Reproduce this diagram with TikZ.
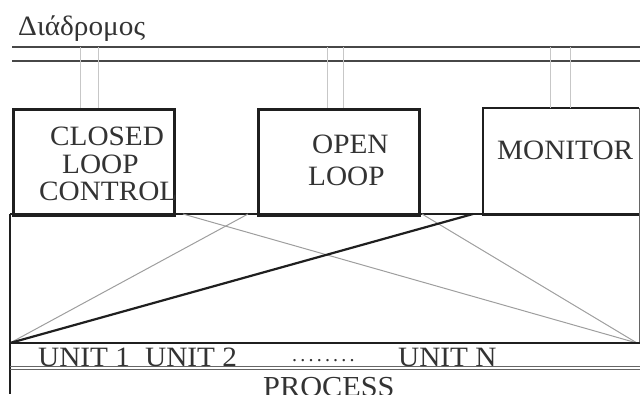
\documentclass[tikz,border=0pt]{standalone}
\usepackage{fontspec}
\setmainfont{Liberation Serif}
\newfontfamily\widerm[FakeStretch=1.045]{Liberation Serif}
\begin{document}
\begin{tikzpicture}[x=1pt,y=-1pt,
  boxframe/.style={draw=black!88,line width=2.8pt},
  busline/.style={draw=black!72,line width=1.8pt},
  tap/.style={draw=black!22,line width=0.9pt},
  thinrule/.style={draw=black!60,line width=0.9pt},
  fieldlink/.style={draw=black!38,line width=1.0pt},
  mainlink/.style={draw=black!88,line width=2.2pt},
  lbl/.style={inner sep=0pt,anchor=base west,text=black!80,font=\widerm\fontsize{28}{28}\selectfont},
  unitlbl/.style={lbl,font=\widerm\fontsize{28}{28}\selectfont},
  station/.style={rectangle,inner sep=0pt,minimum height=106pt,anchor=north west}
]
\useasboundingbox (0,0) rectangle (640,394);

% bus
\node[lbl] (title) at (18,35) {Διάδρομος};
\coordinate (busAw) at (12,47);  \coordinate (busAe) at (640,47);
\coordinate (busBw) at (12,61);  \coordinate (busBe) at (640,61);
\draw[busline] (busAw) -- (busAe);
\draw[busline] (busBw) -- (busBe);

% stations
\node[station,boxframe,minimum width=161pt] (closed) at (12,108) {};
\node[station,boxframe,minimum width=161pt] (open) at (257,108) {};
\node[station,minimum width=156pt] (monitor) at (483,108) {};
\draw[boxframe] (monitor.north east) -- (monitor.north west) -- (monitor.south west) -- (monitor.south east);

\node[lbl] (closedA) at (50,145.5) {CLOSED};
\node[lbl] (closedB) at (62,173) {LOOP};
\node[lbl] (closedC) at (39,200.5) {CONTROL};
\node[lbl] (openA) at (312,153) {OPEN};
\node[lbl] (openB) at (308,185) {LOOP};
\node[lbl] (monA) at (497,159) {MONITOR};

% taps from the bus to the stations
\foreach \tx/\st in {80/closed,98/closed,327/open,343/open,550/monitor,570/monitor}{
  \coordinate (tap-\tx) at (\tx,47);
  \draw[tap] (tap-\tx) -- (tap-\tx |- \st.north);
}

% field frame
\coordinate (fTL) at (10,214);   \coordinate (fTR) at (640,214);
\coordinate (fBL) at (10,343);   \coordinate (fBR) at (640,343);
\coordinate (fCorner) at (637,343);
\coordinate (fFoot) at (10,394);
\draw[boxframe] (fTL) -- (fTR);
\draw[boxframe] (fTL) -- (fFoot);
\draw[thinrule] (monitor.north east) -- (monitor.north east |- fBR);

% field connections
\coordinate (p1) at (183,214);
\coordinate (p2) at (248,214);
\coordinate (p3) at (422,214);
\coordinate (p4) at (473,214);
\draw[fieldlink] (p1) -- (fCorner);
\draw[fieldlink] (p3) -- (fCorner);
\draw[fieldlink] (p2) -- (fBL);
\draw[mainlink] (p4) -- (fBL);
\draw[boxframe] (fBL) -- (fBR);

% units and process
\coordinate (uW) at (10,366.5); \coordinate (uE) at (640,366.5);
\coordinate (vW) at (10,369.5); \coordinate (vE) at (640,369.5);
\draw[thinrule] (uW) -- (uE);
\draw[thinrule] (vW) -- (vE);
\node[unitlbl] (u1) at (38,366) {UNIT 1};
\node[unitlbl] (u2) at (145,366) {UNIT 2};
\node[lbl,font=\fontsize{20}{20}\selectfont] (udots) at (292,361) {.\hspace{3.2pt}.\hspace{3.2pt}.\hspace{3.2pt}.\hspace{3.2pt}.\hspace{3.2pt}.\hspace{3.2pt}.\hspace{3.2pt}.};
\node[unitlbl] (uN) at (398,366) {UNIT N};
\node[lbl,font=\widerm\fontsize{29}{29}\selectfont] (proc) at (263,396.5) {PROCESS};
\end{tikzpicture}
\end{document}
